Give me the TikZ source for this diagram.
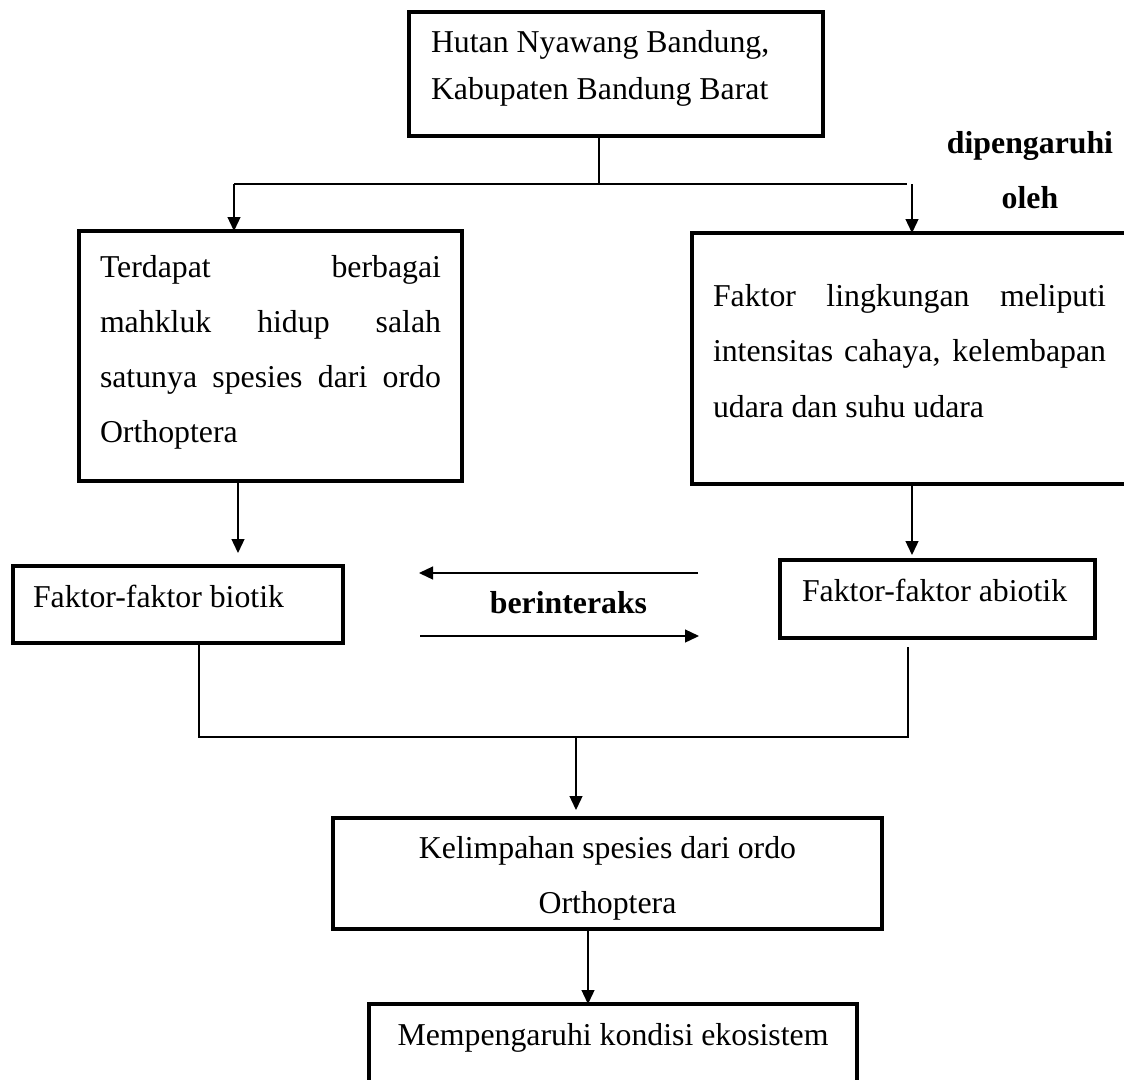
\documentclass[tikz,border=0pt]{standalone}
\usepackage{fontspec}
\setmainfont{Liberation Serif}
\usetikzlibrary{arrows.meta}
\tikzset{
  boxnode/.style={draw=black, line width=3.5pt, inner sep=0pt, outer sep=0pt, anchor=north west},
  ln/.style={draw=black, line width=1.3pt},
  arr/.style={ln, -{Triangle[length=14pt,width=13pt]}},
  txt/.style={inner sep=0pt, outer sep=0pt, anchor=base west, font=\fontsize{31.8}{38}\selectfont},
  ctxt/.style={txt, anchor=base},
  btxt/.style={ctxt, font=\fontsize{31.8}{38}\selectfont\bfseries}
}
\begin{document}
\begin{tikzpicture}[x=1pt,y=-1pt]
\fill[white] (0,0) rectangle (1124,1079);
\clip (0,0) rectangle (1124,1079);
% boxes
\node[boxnode, minimum width=414pt, minimum height=124pt] (top) at (409,12) {};
\node[boxnode, minimum width=383pt, minimum height=250pt] (left) at (79,231) {};
\node[boxnode, minimum width=450pt, minimum height=251pt] (right) at (692,233) {};
\node[boxnode, minimum width=330pt, minimum height=77pt] (biotik) at (13,566) {};
\node[boxnode, minimum width=315pt, minimum height=78pt] (abiotik) at (780,560) {};
\node[boxnode, minimum width=549pt, minimum height=111pt] (kel) at (333,818) {};
\node[boxnode, minimum width=488pt, minimum height=110pt] (mem) at (369,1004) {};
% texts
\node[txt] (t1) at (431,52) {Hutan Nyawang Bandung,};
\node[txt] (t2) at (431,99) {Kabupaten Bandung Barat};
\node[txt] (l1) at (100,277) {\makebox[341pt][s]{Terdapat berbagai}};
\node[txt] (l2) at (100,332) {\makebox[341pt][s]{mahkluk hidup salah}};
\node[txt] (l3) at (100,387) {\makebox[341pt][s]{satunya spesies dari ordo}};
\node[txt] (l4) at (100,442) {Orthoptera};
\node[txt] (r1) at (713,306) {\makebox[393pt][s]{Faktor lingkungan meliputi}};
\node[txt] (r2) at (713,361) {\makebox[393pt][s]{intensitas cahaya, kelembapan}};
\node[txt] (r3) at (713,417) {udara dan suhu udara};
\node[txt] (b1) at (33,607) {Faktor-faktor biotik};
\node[txt] (a1) at (802,601) {Faktor-faktor abiotik};
\node[ctxt] (k1) at (607.5,858) {Kelimpahan spesies dari ordo};
\node[ctxt] (k2) at (607.5,913) {Orthoptera};
\node[ctxt] (m1) at (613,1045) {Mempengaruhi kondisi ekosistem};
\node[btxt] (d1) at (1030,153) {dipengaruhi};
\node[btxt] (d2) at (1030,208) {oleh};
\node[btxt] (ber) at (568.5,613) {berinteraks};
% junction coordinates
\coordinate (jT) at (599,184);
\coordinate (jL) at (234,184);
\coordinate (jR0) at (907,184);
\coordinate (jR) at (912,184);
\coordinate (cA) at (238,553);
\coordinate (cB) at (912,555);
\coordinate (iL1) at (419,573);
\coordinate (iR1) at (698,573);
\coordinate (iL2) at (420,636);
\coordinate (iR2) at (699,636);
\coordinate (jB) at (199,737);
\coordinate (jA) at (908,737);
\coordinate (cC) at (908,647);
\coordinate (jM) at (576,737);
\coordinate (cD) at (576,810);
\coordinate (cE) at (588,1000);
% connectors
\draw[ln] (top.south -| jT) -- (jT);
\draw[ln] (jL) -- (jR0);
\draw[arr] (jL) -- (left.north -| jL);
\draw[arr] (jR) -- (right.north -| jR);
\draw[arr] (left.south -| cA) -- (cA);
\draw[arr] (right.south -| cB) -- (cB);
\draw[arr] (iR1) -- (iL1);
\draw[arr] (iL2) -- (iR2);
\draw[ln] (biotik.south -| jB) -- (jB) -- (jA) -- (cC);
\draw[arr] (jM) -- (cD);
\draw[arr] (kel.south -| cE) -- (mem.north -| cE);
\end{tikzpicture}
\end{document}
